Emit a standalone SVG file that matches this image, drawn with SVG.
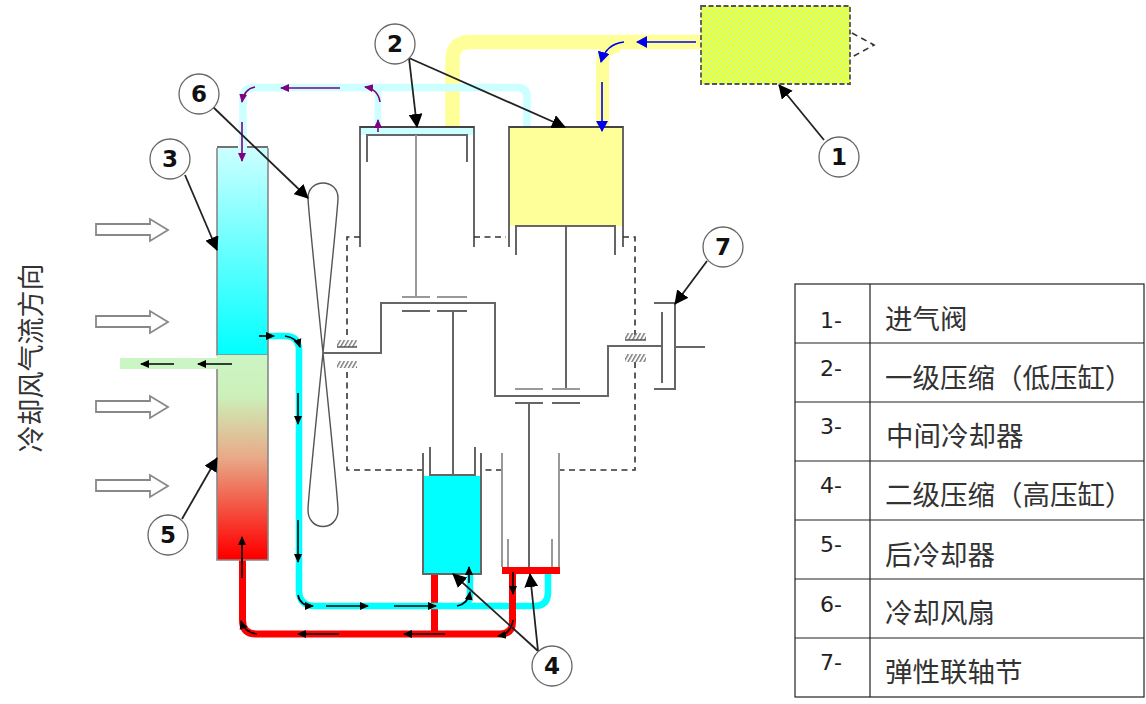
<svg xmlns="http://www.w3.org/2000/svg" width="1146" height="704" viewBox="0 0 1146 704">
<defs>
<linearGradient id="gc" x1="0" y1="0" x2="0" y2="1"><stop offset="0" stop-color="#ccffff"/><stop offset="1" stop-color="#00ffff"/></linearGradient>
<linearGradient id="gr" x1="0" y1="0" x2="0" y2="1"><stop offset="0" stop-color="#ccf5c5"/><stop offset="0.2" stop-color="#ccf0b8"/><stop offset="0.5" stop-color="#e8aa88"/><stop offset="0.98" stop-color="#ff0000"/></linearGradient>
<pattern id="ph" width="5" height="5" patternUnits="userSpaceOnUse"><rect width="5" height="5" fill="#ffff00"/><rect width="2.500" height="2.500" fill="#c0ffb0"/><rect x="2.500" y="2.500" width="2.500" height="2.500" fill="#c0ffb0"/></pattern>
<pattern id="hatch" width="4" height="4" patternUnits="userSpaceOnUse" patternTransform="skewX(-30)"><rect width="1.600" height="4" fill="#777"/></pattern>
<marker id="k" markerWidth="10" markerHeight="10" refX="8" refY="5" orient="auto" markerUnits="userSpaceOnUse"><path d="M0 1L9 5L0 9Z" fill="#000"/></marker>
<marker id="K" markerWidth="15" markerHeight="14" refX="13" refY="7" orient="auto" markerUnits="userSpaceOnUse"><path d="M0 0L14 7L0 14Z" fill="#000"/></marker>
<marker id="b" markerWidth="12" markerHeight="12" refX="10" refY="6" orient="auto" markerUnits="userSpaceOnUse"><path d="M0 0L11 6L0 12Z" fill="#0000ee"/></marker>
<marker id="p" markerWidth="10" markerHeight="10" refX="8" refY="5" orient="auto" markerUnits="userSpaceOnUse"><path d="M0 1L9 5L0 9Z" fill="#800080"/></marker>
</defs>
<style>
text{font-family:"Liberation Sans","Noto Sans CJK SC",sans-serif}
.m{fill:none;stroke:#666;stroke-width:2}
.l{fill:none;stroke:#999;stroke-width:2}
.d{fill:none;stroke:#333;stroke-width:1.600;stroke-dasharray:6 4.500}
.pipe{fill:none;stroke-linejoin:round}
.ka{fill:none;stroke:#000;stroke-width:1.600;marker-end:url(#k)}
.ba{fill:none;stroke:#0000ee;stroke-width:1.600;marker-end:url(#b)}
.pa{fill:none;stroke:#800080;stroke-width:1.600;marker-end:url(#p)}
.le{fill:none;stroke:#222;stroke-width:1.800;marker-end:url(#K)}
.c{fill:#fff;stroke:#666;stroke-width:1.300}
.n{font-family:"DejaVu Sans",sans-serif;font-size:23px;font-weight:bold;text-anchor:middle;fill:#111}
.air{fill:#fff;stroke:#888;stroke-width:1.800}
.h{fill:url(#hatch)}
.t{font-size:27.500px;fill:#333}
.tn{font-family:"DejaVu Sans",sans-serif;font-size:22px;fill:#222}
</style>
<g id="pipes">
<path class="pipe" d="M452.500 127V60Q452.500 42 470 42H700" stroke="#ffff99" stroke-width="14.500"/>
<path class="pipe" d="M602.500 127V64Q602.500 46 620 46" stroke="#ffff99" stroke-width="13"/>
<path class="pipe" d="M527 127V97Q527 87.500 517 87.500H254Q243 87.500 243 98V148" stroke="#ccffff" stroke-width="7.500"/>
<path class="pipe" d="M378 127V90" stroke="#ccffff" stroke-width="6.500"/>
<rect x="120" y="358" width="98" height="11" fill="#ccf5c5"/>
<path class="pipe" d="M434.500 574V634" stroke="#ff0000" stroke-width="7"/>
<path class="pipe" d="M268 336H285Q299 336 299 350V590Q299 606 315 606H535Q548 606 548 592V574" stroke="#00ffff" stroke-width="6.500"/>
<path class="pipe" d="M470 574V594Q470 606 458 606" stroke="#00ffff" stroke-width="6.500"/>
<path class="pipe" d="M242.500 560V620Q242.500 634 256 634H500Q512.500 634 512.500 622V574" stroke="#ff0000" stroke-width="7"/>
</g>
<g id="n1"><rect x="701" y="6" width="149" height="78" fill="url(#ph)" stroke="#555" stroke-width="1.800" stroke-dasharray="5 2.500"/><path class="d" d="M852 33L874 45L852 57"/></g>
<g id="n3"><path d="M217 147H238M247 147H268" stroke="#444" stroke-width="1.600"/><rect x="217" y="148" width="51" height="207" fill="url(#gc)"/><path d="M217 148V355H268V148" fill="none" stroke="#888" stroke-width="1.600"/></g>
<g id="n5"><rect x="217" y="355" width="51" height="205" fill="url(#gr)"/><path d="M217 369V560H268V355" fill="none" stroke="#888" stroke-width="1.600"/></g>
<g id="n6"><path d="M308 198C308 178 338 178 338 198C338 215 308 490 308 510C308 532 338 532 338 510C338 490 308 215 308 198Z" fill="#fff" stroke="#555" stroke-width="1.400"/></g>
<g id="lp">
<rect x="360" y="127" width="113" height="8" fill="#ccffff"/>
<path d="M360 247V127H474V247" class="m"/><path d="M360 127H474" stroke="#444" stroke-width="1.800"/>
<path d="M367 162V135H467V162" class="m"/><path d="M416 135V297" class="l"/>
</g>
<g id="lpy">
<rect x="509" y="127" width="114" height="99" fill="#ffff99"/>
<path d="M509 247V127H623V247" class="m"/><path d="M509 127H623" stroke="#444" stroke-width="1.800"/>
<path d="M516 255V226H615V255" class="m"/><path d="M566 226V389" stroke="#555" stroke-width="1.800"/>
</g>
<g id="crank">
<path class="d" d="M347 335V237H360M474 237H506M623 237H635V335M635 362V470H559M502 470H481M423 470H347V368"/>
<path d="M322 353H381V303H495V396H608V346H662" class="m"/>
<path d="M402 297H430M437 297H467M515 389H543M552 389H580" class="l"/>
<path d="M402 311H430M437 311H467M515 403H543M552 403H580" stroke="#666" stroke-width="1.800"/>
<path d="M453 311V475" class="m"/><path d="M529 403V567" class="m"/>
<rect x="337" y="340" width="20" height="7" class="h"/><rect x="337" y="361" width="20" height="7" class="h"/>
<path d="M337 347H357" stroke="#555" stroke-width="1.500"/>
<rect x="625" y="333" width="21" height="7" class="h"/><rect x="625" y="354" width="21" height="8" class="h"/>
<path d="M625 340H646" stroke="#555" stroke-width="1.500"/>
</g>
<g id="n7"><path d="M654 303H675V389H654M662 312V383M675 347H705" class="m"/></g>
<g id="n4a">
<rect x="423" y="476" width="58" height="98" fill="#00ffff"/>
<path d="M423 453V574H481V453" class="m"/>
<path d="M430 447V475H475V447" class="m"/>
<path d="M502 453V567M559 453V567M508 539V567M552 539V567" class="l"/>
<rect x="502" y="567" width="58" height="7" fill="#ff0000"/>
</g>
<g id="flow">
<path class="ba" d="M696 42H637"/><path class="ba" d="M624 42Q606 44 601 62"/><path class="ba" d="M602 82V131"/>
<path class="pa" d="M378 132V120"/><path class="pa" d="M380 102Q378 89 365 87"/><path class="pa" d="M340 88H281"/><path class="pa" d="M255 87Q244 89 242 102"/><path class="pa" d="M242 122V161"/>
<path class="ka" d="M259 336H274"/><path class="ka" d="M285 336Q297 338 300 347"/><path class="ka" d="M298 393V424"/><path class="ka" d="M298 520V562"/>
<path class="ka" d="M298 595Q300 606 313 606"/><path class="ka" d="M326 606H368"/><path class="ka" d="M394 606H436"/><path class="ka" d="M457 606Q468 604 470 592"/><path class="ka" d="M469 583V567"/>
<path class="ka" d="M232 364H198"/><path class="ka" d="M174 364H141"/>
<path class="ka" d="M242 578V537"/><path class="ka" d="M257 634Q245 633 241 621"/><path class="ka" d="M339 634H298"/><path class="ka" d="M445 634H404"/><path class="ka" d="M513 620Q511 634 498 636"/><path class="ka" d="M513 572V594"/>
</g>
<g id="air">
<path class="air" d="M96 224H150V219L168 230L150 241V235H96Z"/>
<path class="air" d="M96 316H150V311L168 322L150 333V327H96Z"/>
<path class="air" d="M96 401H150V396L168 407L150 418V412H96Z"/>
<path class="air" d="M96 480H150V475L168 486L150 497V491H96Z"/>
</g>
<g id="leaders">
<path class="le" d="M409 58L417 127"/><path class="le" d="M409 58L565 127"/>
<path class="le" d="M824 140L779 85"/><path class="le" d="M185 175L217 250"/><path class="le" d="M213 107L308 198"/>
<path class="le" d="M182 519L217 458"/><path class="le" d="M538 651L453 574"/><path class="le" d="M538 651L530 574"/><path class="le" d="M707 261L675 304"/>
</g>
<g id="c1"><circle class="c" cx="839" cy="157" r="20"/><text class="n" x="839" y="165">1</text></g>
<g id="c2"><circle class="c" cx="395" cy="44" r="20"/><text class="n" x="395" y="52">2</text></g>
<g id="c3"><circle class="c" cx="170" cy="159" r="20"/><text class="n" x="170" y="167">3</text></g>
<g id="c4"><circle class="c" cx="552" cy="666" r="20"/><text class="n" x="552" y="674">4</text></g>
<g id="c5"><circle class="c" cx="168" cy="535" r="20"/><text class="n" x="168" y="543">5</text></g>
<g id="c6"><circle class="c" cx="199" cy="94" r="20"/><text class="n" x="199" y="102">6</text></g>
<g id="c7"><circle class="c" cx="723" cy="247" r="20"/><text class="n" x="723" y="255">7</text></g>
<text x="34" y="358" transform="rotate(-90 34 358)" style="font-size:27px;fill:#333" text-anchor="middle" dominant-baseline="middle">冷却风气流方向</text>
<g id="table" fill="none" stroke="#222" stroke-width="1.200">
<rect x="795" y="284" width="349" height="413"/>
<path d="M870 284V697M795 343H1144M795 402H1144M795 461H1144M795 520H1144M795 579H1144M795 638H1144"/>
</g>
<g id="labels">
<text class="tn" x="820" y="328">1-</text><text class="t" x="885" y="329">进气阀</text>
<text class="tn" x="820" y="376">2-</text><text class="t" x="885" y="388">一级压缩（低压缸）</text>
<text class="tn" x="820" y="434">3-</text><text class="t" x="886" y="446">中间冷却器</text>
<text class="tn" x="820" y="493">4-</text><text class="t" x="885" y="505">二级压缩（高压缸）</text>
<text class="tn" x="820" y="552">5-</text><text class="t" x="885" y="565">后冷却器</text>
<text class="tn" x="820" y="612">6-</text><text class="t" x="885" y="623">冷却风扇</text>
<text class="tn" x="820" y="670">7-</text><text class="t" x="885" y="682">弹性联轴节</text>
</g>
</svg>
